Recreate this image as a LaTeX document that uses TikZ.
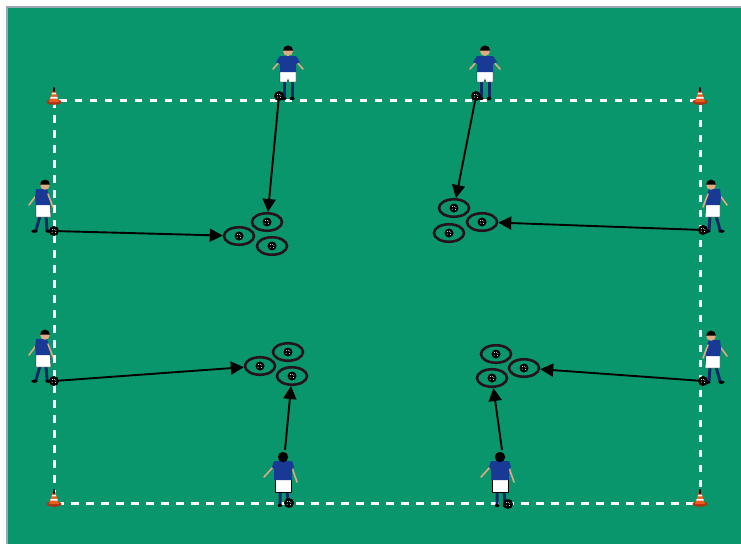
\documentclass[tikz,border=0pt]{standalone}
\usetikzlibrary{arrows.meta,shapes.geometric}
\definecolor{pitch}{RGB}{10,150,108}
\definecolor{edgegray}{RGB}{155,168,178}
\definecolor{shirt}{RGB}{24,58,148}
\definecolor{sock}{RGB}{18,38,105}
\definecolor{skin}{RGB}{226,170,130}
\definecolor{ringc}{RGB}{38,18,26}
\definecolor{coneo}{RGB}{232,92,32}
\definecolor{coned}{RGB}{170,52,20}
\tikzset{
  ballst/.style={circle,fill=black,inner sep=0pt,minimum size=10pt,
    path picture={\foreach \dx/\dy in {-1.8/-1.2,1.5/-1.6,0.3/1.7,-1.5/1.3,1.9/0.8}
      {\fill[white] ([xshift=\dx pt,yshift=\dy pt]path picture bounding box.center) circle (0.5pt);}}},
  rballst/.style={ballst,minimum size=9pt},
  ringst/.style={ellipse,draw=ringc,line width=2.6pt,minimum width=30pt,minimum height=17.5pt,inner sep=0pt},
  conn/.style={-{Triangle[length=13pt,width=13pt]},line width=1.9pt,black},
  fieldline/.style={white,line width=3pt,dash pattern=on 7.5pt off 7.5pt},
  pfront/.pic={
    \draw[sock,line width=3pt] (-4,-18)--(-4,-3) (4,-18)--(4,-3);
    \fill[black] (-4,-1.5) ellipse (2.6 and 1.6) (4,-1.5) ellipse (2.6 and 1.6);
    \draw[skin,line width=1.6pt,line cap=round] (-7,-40)--(-15,-31) (7,-40)--(15,-31);
    \fill[white,draw=black,line width=0.3pt] (-8,-29)--(8,-29)--(8,-18)--(1,-18)--(0,-21)--(-1,-18)--(-8,-18)--cycle;
    \fill[shirt] (-8,-44)--(8,-44)--(12,-38)--(8,-36)--(8,-28)--(-8,-28)--(-8,-36)--(-12,-38)--cycle;
    \fill[skin] (0,-49) circle (5);
    \fill[black] (0,-49.5) ++(-5.1,0) arc (180:360:5.1) -- cycle;
  },
  pside/.pic={
    \draw[sock,line width=3pt,line cap=round] (-2,-17)--(-6,-3) (4,-17)--(5,-3);
    \fill[black] (-7.5,-1.8) ellipse (3.2 and 1.6) (6.5,-1.8) ellipse (3.2 and 1.6);
    \draw[skin,line width=1.6pt,line cap=round] (-4,-40)--(-13,-28);
    \fill[white,draw=black,line width=0.3pt] (-6,-29)--(8,-29)--(9,-16)--(-6,-16)--cycle;
    \fill[shirt] (-6,-44)--(5,-44)--(8,-36)--(8,-28)--(-6,-28)--(-7,-36)--cycle;
    \draw[skin,line width=1.6pt,line cap=round] (6,-39)--(11,-26);
    \fill[skin] (3,-48) circle (4.8);
    \fill[black] (3,-48.5) ++(-4.9,0) arc (180:360:4.9) -- cycle;
  },
  pback/.pic={
    \draw[sock,line width=3pt] (-3,-16)--(-3,-3) (4,-16)--(5,-3);
    \fill[black] (-3,-1.5) ellipse (2.4 and 1.6) (5,-1.5) ellipse (2.4 and 1.6);
    \draw[skin,line width=1.6pt,line cap=round] (-8,-42)--(-19,-30) (8,-42)--(14,-25);
    \fill[white,draw=black,line width=0.3pt] (-8,-28)--(8,-28)--(8,-15)--(-8,-15)--cycle;
    \fill[shirt] (-9,-46)--(9,-46)--(11,-40)--(9,-38)--(9,-27)--(-9,-27)--(-9,-38)--(-11,-40)--cycle;
    \fill[skin] (0,-46) rectangle (2,-48);
    \fill[black] (0,-50) circle (5.2);
  },
  cone/.pic={
    \fill[coned] (0,0) ellipse (7.5 and 2.8);
    \fill[coneo] (-5,0)--(5,0)--(0.8,-13)--(-0.8,-13)--cycle;
    \fill[white] (-3.8,-3.4)--(3.8,-3.4)--(3.3,-5.2)--(-3.3,-5.2)--cycle;
    \fill[white] (-2.3,-7.6)--(2.3,-7.6)--(1.9,-9.2)--(-1.9,-9.2)--cycle;
    \fill[black] (-1.2,-10.4)--(1.2,-10.4)--(0.5,-15)--(-0.5,-15)--cycle;
  }
}
\begin{document}
\begin{tikzpicture}[x=1pt,y=-1pt]
\useasboundingbox (0,0) rectangle (741,544);
% background and frame
\fill[white] (0,0) rectangle (741,544);
\fill[edgegray] (6,6) rectangle (741,544);
\fill[pitch] (8,8) rectangle (741,544);
% field
\draw[fieldline] (54,100) rectangle (700,503);
% cones
\pic at (54,102) {cone};
\pic at (700,102) {cone};
\pic at (54,504) {cone};
\pic at (700,504) {cone};
% rings
\node[ringst] (r1a) at (267,222) {};
\node[ringst] (r1b) at (239,236) {};
\node[ringst] (r1c) at (272,246) {};
\node[ringst] (r2a) at (454,208) {};
\node[ringst] (r2b) at (482,222) {};
\node[ringst] (r2c) at (449,233) {};
\node[ringst] (r3a) at (288,352) {};
\node[ringst] (r3b) at (260,366) {};
\node[ringst] (r3c) at (292,376) {};
\node[ringst] (r4a) at (496,354) {};
\node[ringst] (r4b) at (524,368) {};
\node[ringst] (r4c) at (492,378) {};
\foreach \r in {r1a,r1b,r1c,r2a,r2b,r2c,r3a,r3b,r3c,r4a,r4b,r4c}
  \node[rballst] (\r ball) at (\r) {};
% players
\pic at (288,100) {pfront};
\pic at (485,100) {pfront};
\pic at (42,233) {pside};
\pic at (42,383) {pside};
\pic[xscale=-1] at (714,233) {pside};
\pic[xscale=-1] at (714,384) {pside};
\pic at (283,507) {pback};
\pic at (500,507) {pback};
% balls at players' feet
\node[ballst] (bt1) at (279,96) {};
\node[ballst] (bt2) at (476,96) {};
\node[ballst] (bl1) at (54,231) {};
\node[ballst] (bl2) at (54,381) {};
\node[ballst] (br1) at (703,230) {};
\node[ballst] (br2) at (703,381) {};
\node[ballst] (bb1) at (289,503) {};
\node[ballst] (bb2) at (508,504) {};
\coordinate (hb1) at (285,450);
\coordinate (hb2) at (502,450);
% passes
\draw[conn] (bt1) -- (r1a);
\draw[conn] (bl1) -- (r1b);
\draw[conn] (bt2) -- (r2a);
\draw[conn] (br1) -- (r2b);
\draw[conn] (bl2) -- (r3b);
\draw[conn] (hb1) -- (r3c);
\draw[conn] (hb2) -- (r4c);
\draw[conn] (br2) -- (r4b);
\end{tikzpicture}
\end{document}
